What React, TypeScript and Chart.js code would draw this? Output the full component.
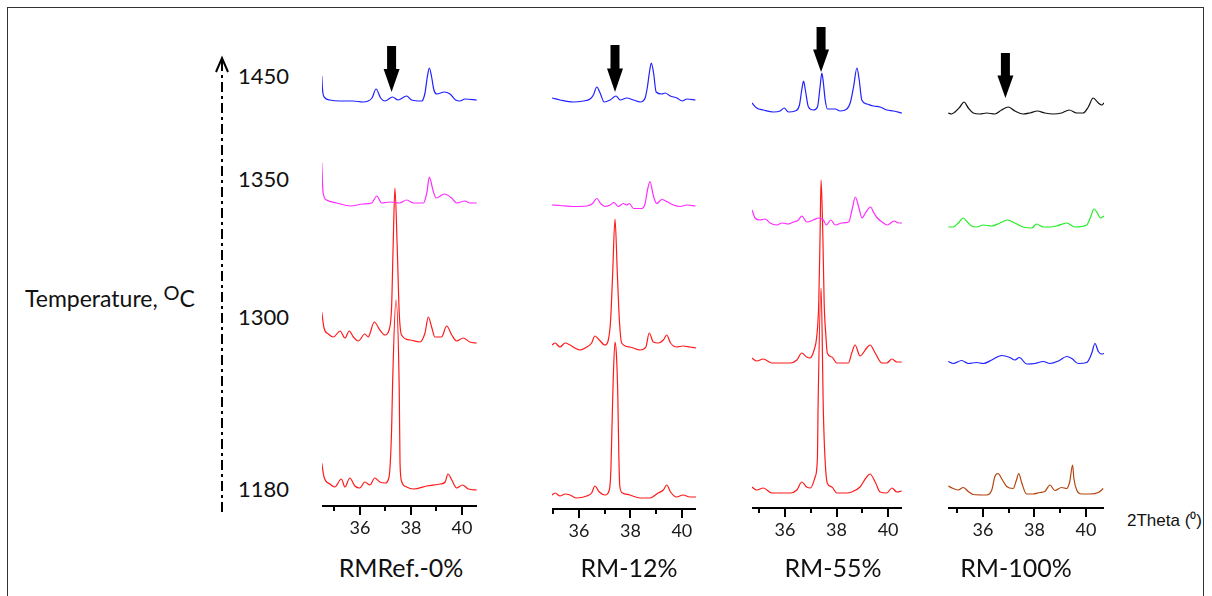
import React, { useEffect, useRef } from "react";
import { Chart, registerables } from "chart.js";
Chart.register(...registerables);

// ---------- data ----------
const temperatures = ["1450", "1350", "1300", "1180"];
const sampleNames = ["RMRef.-0%", "RM-12%", "RM-55%", "RM-100%"];
const tickValues = [36, 38, 40];
const minorTickValues = [35, 37, 39];
const arrowTheta = [37.24, 37.4, 37.4, 36.87];

// RMRef.-0%
const thRef1450 = [34.5, 34.54, 34.63, 34.82, 35.22, 35.73, 36.12, 36.47, 36.63, 36.81, 36.98, 37.28, 37.49, 37.83, 38.03, 38.42, 38.55, 38.64, 38.72, 38.81, 38.9, 39.01, 39.31, 39.53, 39.75, 39.92, 40.12, 40.58];
const inRef1450 = [25, 9, 3, 1, 0, 0, -1, 3, 12, 3, 0, 4, 1, 5, 1, 0, 8, 24, 33, 24, 11, 7, 9, 7, 1, 0, 2, 1];
const thRef1350 = [34.5, 34.55, 34.69, 35.09, 35.62, 36.12, 36.46, 36.66, 36.85, 37.18, 37.55, 37.83, 38.1, 38.49, 38.62, 38.72, 38.86, 38.99, 39.31, 39.6, 39.79, 40.12, 40.31, 40.58];
const inRef1350 = [41, 12, 4, 1, -2, 0, 1, 8, 1, 2, 1, 4, 1, 1, 11, 27, 14, 6, 10, 6, 1, 3, 1, 1];
const thRef1300 = [34.5, 34.59, 34.76, 34.96, 35.22, 35.41, 35.58, 35.74, 35.93, 36.19, 36.32, 36.56, 36.78, 36.98, 37.14, 37.24, 37.3, 37.37, 37.46, 37.54, 37.63, 37.96, 38.35, 38.55, 38.68, 38.81, 38.94, 39.2, 39.4, 39.6, 39.79, 40.05, 40.31, 40.58];
const inRef1300 = [29, 13, 7, 4, 10, 3, 10, 4, 0, 7, 4, 19, 11, 6, 11, 34, 94, 153, 94, 28, 6, 1, -1, 8, 24, 14, 4, 4, 15, 6, 0, 3, -1, -2];
const thRef1180 = [34.5, 34.59, 34.82, 35.01, 35.27, 35.41, 35.6, 35.8, 35.99, 36.19, 36.39, 36.58, 36.78, 36.98, 37.14, 37.24, 37.28, 37.41, 37.54, 37.57, 37.64, 37.83, 38.1, 38.62, 39.15, 39.34, 39.45, 39.6, 39.79, 40.02, 40.25, 40.58];
const inRef1180 = [26, 12, 5, 2, 10, 2, 11, 3, 1, 7, 4, 11, 7, 6, 12, 59, 106, 189, 99, 26, 7, 2, 0, 3, 5, 7, 15, 9, 1, 4, 0, -1];

// RM-12%
const th12_1450 = [34.95, 35.26, 35.78, 36.17, 36.43, 36.56, 36.69, 36.82, 36.98, 37.21, 37.44, 37.6, 37.86, 38.12, 38.38, 38.57, 38.66, 38.74, 38.81, 38.9, 39.0, 39.22, 39.35, 39.55, 39.81, 40.01, 40.2, 40.53];
const in12_1450 = [3, 1, -1, 0, 2, 6, 14, 8, -1, 1, 5, 1, 3, 1, -1, 3, 14, 29, 38, 28, 9, 7, 8, 5, 3, 0, 2, 1];
const th12_1350 = [34.95, 35.26, 35.78, 36.3, 36.53, 36.69, 36.84, 37.01, 37.21, 37.36, 37.53, 37.72, 37.86, 37.96, 38.12, 38.44, 38.57, 38.66, 38.76, 38.89, 39.02, 39.22, 39.41, 39.67, 39.93, 40.2, 40.53];
const in12_1350 = [1.5, 1, 0, 0.5, 3, 8, 3, 0, 1.5, 4, 0, 3, 1.5, 3, -2, -2, 3, 16, 25, 11, 3, 7, 5, 1.5, 0, 1.5, 0.5];
const th12_1300 = [34.95, 35.07, 35.26, 35.46, 35.65, 35.84, 36.04, 36.3, 36.49, 36.62, 36.79, 37.01, 37.14, 37.23, 37.31, 37.4, 37.49, 37.57, 37.66, 37.98, 38.37, 38.6, 38.73, 38.89, 39.08, 39.28, 39.41, 39.56, 39.79, 40.05, 40.31, 40.55];
const in12_1300 = [3, 5, 1, 5, 3, 0, -2, 1, 5, 12, 8, 3, 8, 28, 75, 129, 75, 28, 5, 1, -2, 1, 15, 6, 5, 8, 13, 5, 1, 2, 1, 0];
const th12_1180 = [34.95, 35.07, 35.26, 35.46, 35.65, 35.91, 36.3, 36.49, 36.62, 36.79, 37.01, 37.18, 37.24, 37.28, 37.33, 37.4, 37.46, 37.51, 37.55, 37.59, 37.69, 37.98, 38.37, 38.76, 39.08, 39.28, 39.41, 39.56, 39.79, 40.05, 40.31, 40.55];
const in12_1180 = [2, 4, 1, 3, 2, -1, 1, 4, 11, 5, 2, 7, 27, 67, 117, 155, 140, 100, 40, 10, 4, 2, -1, -1, 4, 7, 12, 5, 0, 2, 0, 0];

// RM-55%
const th55_1450 = [34.72, 34.9, 35.16, 35.55, 35.81, 35.97, 36.13, 36.39, 36.56, 36.65, 36.72, 36.79, 36.91, 37.1, 37.26, 37.36, 37.43, 37.49, 37.56, 37.65, 37.95, 38.14, 38.4, 38.53, 38.66, 38.79, 38.88, 38.98, 39.18, 39.43, 39.69, 39.95, 40.21, 40.54];
const in55_1450 = [8, 3, 1, -1, 0, 3, -1, 0, 6, 21, 30, 21, 4, 1, 4, 24, 38, 28, 11, 2, 2, 0, 2, 8, 24, 43, 31, 11, 7, 5, 4, 1, 0, -2];
const th55_1350 = [34.72, 34.84, 35.03, 35.23, 35.42, 35.68, 35.88, 36.13, 36.33, 36.52, 36.65, 36.85, 37.1, 37.3, 37.49, 37.6, 37.78, 37.95, 38.21, 38.47, 38.6, 38.73, 38.86, 38.99, 39.12, 39.32, 39.45, 39.58, 39.77, 39.97, 40.23, 40.42, 40.54];
const in55_1350 = [12, 4, 2, 3, -1, -3, -1, -2, 0, 2, 6, 0, 2, 4, 2, -3, 2, -3, -1, 0, 12, 25, 15, 4, 9, 15, 9, 4, 0, -3, 1, -1, -1];
const th55_1300 = [34.72, 34.9, 35.16, 35.49, 35.87, 36.2, 36.46, 36.65, 36.84, 36.97, 37.13, 37.23, 37.31, 37.36, 37.4, 37.47, 37.52, 37.59, 37.64, 37.82, 38.01, 38.46, 38.59, 38.72, 38.91, 39.17, 39.3, 39.5, 39.76, 39.95, 40.15, 40.34, 40.53];
const in55_1300 = [5, 2, 4, 0, 0, 0, 3, 10, 6, 5, 13, 26, 60, 126, 183, 126, 60, 26, 10, 6, 0, 0, 10, 18, 7, 15, 18, 10, 0, 0, 4, 1, 1];
const th55_1180 = [34.72, 34.9, 35.16, 35.49, 36.2, 36.46, 36.65, 36.84, 36.99, 37.17, 37.26, 37.28, 37.4, 37.49, 37.55, 37.64, 37.82, 38.01, 38.4, 38.59, 38.91, 39.14, 39.3, 39.5, 39.69, 39.95, 40.15, 40.34, 40.53];
const in55_1180 = [6, 3, 5, 0, 0, 3, 11, 6, 5, 16, 36, 80, 205, 80, 36, 10, 6, 0, 0, 1, 6, 15, 19, 11, 1, 0, 5, 1, 2];

// RM-100%
const th100_1450 = [34.65, 34.78, 34.91, 35.1, 35.26, 35.43, 35.62, 35.88, 36.14, 36.46, 36.72, 36.98, 37.24, 37.56, 37.82, 38.11, 38.4, 38.73, 39.05, 39.35, 39.64, 39.89, 40.09, 40.28, 40.48, 40.61, 40.7];
const in100_1450 = [1, 0, 2, 7, 12, 6, 1, 0, 1, 0, 4, 7, 3, 0, 1, 3, 1, 0, 1, 4, 1, 1, 7, 16, 11, 9, 11];
const th100_1350 = [34.65, 34.84, 35.04, 35.23, 35.39, 35.56, 35.75, 36.01, 36.34, 36.66, 36.94, 37.24, 37.56, 37.89, 38.08, 38.34, 38.6, 38.86, 39.25, 39.57, 40.03, 40.18, 40.31, 40.44, 40.57, 40.7];
const in100_1350 = [0, 0, 4, 9, 5, 1, 0, 2, 1, 4, 7, 4, 0, -1, 3, 0, 0, 1, 4, 0, 2, 10, 18, 14, 9, 11];
const th100_1300 = [34.65, 34.84, 35.17, 35.43, 35.75, 36.01, 36.34, 36.72, 37.05, 37.24, 37.41, 37.7, 38.02, 38.34, 38.6, 38.93, 39.25, 39.45, 39.7, 40.03, 40.22, 40.35, 40.48, 40.61, 40.7];
const in100_1300 = [2, 0, 3, 0, 1, 0, 3.5, 8, 6, 3.5, 6, -0.5, 0, 2, 0, 2.5, 7, 5, 0, 1, 10, 20, 12, 9.5, 10];
const th100_1180 = [34.65, 34.84, 35.04, 35.23, 35.43, 35.62, 36.14, 36.34, 36.46, 36.59, 36.72, 36.92, 37.17, 37.3, 37.39, 37.5, 37.69, 37.95, 38.21, 38.4, 38.6, 38.79, 39.05, 39.25, 39.37, 39.48, 39.53, 39.64, 39.83, 40.15, 40.48, 40.67];
const in100_1180 = [8.5, 6, 4.5, 7, 3, 0, -0.5, 4.5, 18, 21, 16, 8, 6, 14.5, 21, 12, 0.5, 0.5, 2, 3, 9.5, 4, 7, 6, 13, 29.5, 16, 4.5, 0.5, 0.5, 2, 6];

// ---------- layout / styles ----------
const BLUE = "#1f1fff";
const MAGENTA = "#ff2cff";
const RED = "#ff1a1a";
const GREEN = "#22ee22";
const BLACK = "#111111";
const BROWN = "#b4440e";
const CANVAS_TOP = 20;
const AXIS_H = 45;

const panels = [
  { left: 322, width: 155, min: 34.51, max: 40.59, axisY: 506, offsets: [405, 302, 165, 17], colors: [BLUE, MAGENTA, RED, RED],
    series: [[thRef1450, inRef1450], [thRef1350, inRef1350], [thRef1300, inRef1300], [thRef1180, inRef1180]], arrowTop: 46, arrowTip: 92, labelX: 401 },
  { left: 552, width: 144, min: 34.95, max: 40.55, axisY: 509, offsets: [408, 302.5, 161, 12], colors: [BLUE, MAGENTA, RED, RED],
    series: [[th12_1450, in12_1450], [th12_1350, in12_1350], [th12_1300, in12_1300], [th12_1180, in12_1180]], arrowTop: 45, arrowTip: 92, labelX: 629 },
  { left: 752, width: 150, min: 34.72, max: 40.54, axisY: 508, offsets: [397, 286, 145, 15], colors: [BLUE, MAGENTA, RED, RED],
    series: [[th55_1450, in55_1450], [th55_1350, in55_1350], [th55_1300, in55_1300], [th55_1180, in55_1180]], arrowTop: 27, arrowTip: 72, labelX: 833 },
  { left: 948, width: 156, min: 34.64, max: 40.7, axisY: 508, offsets: [394, 281, 144.5, 13.5], colors: [BLACK, GREEN, BLUE, BROWN],
    series: [[th100_1450, in100_1450], [th100_1350, in100_1350], [th100_1300, in100_1300], [th100_1180, in100_1180]], arrowTop: 53, arrowTip: 98, labelX: 1016 },
];

const FONT = "Lato, 'Open Sans', sans-serif";

function Panel({ idx }: { idx: number }) {
  const ref = useRef<HTMLCanvasElement | null>(null);
  const p = panels[idx];
  const chartH = p.axisY - CANVAS_TOP;
  useEffect(() => {
    if (!ref.current) return;
    const decor = {
      id: "decor" + idx,
      afterDraw(chart: any) {
        const ctx = chart.ctx;
        const xs = chart.scales.x;
        const ys = chart.scales.y;
        const bottom = chart.chartArea.bottom;
        ctx.save();
        ctx.strokeStyle = "#000";
        ctx.lineWidth = 2;
        minorTickValues.forEach((v) => {
          const x = Math.round(xs.getPixelForValue(v));
          ctx.beginPath();
          ctx.moveTo(x, bottom);
          ctx.lineTo(x, bottom + 5);
          ctx.stroke();
        });
        // arrow
        const ax = xs.getPixelForValue(arrowTheta[idx]);
        const top = ys.getPixelForValue(p.axisY - p.arrowTop);
        const tip = ys.getPixelForValue(p.axisY - p.arrowTip);
        const headH = (tip - top) * 0.5;
        ctx.fillStyle = "#000";
        ctx.beginPath();
        ctx.moveTo(ax - 4.5, top);
        ctx.lineTo(ax + 4.5, top);
        ctx.lineTo(ax + 4.5, tip - headH);
        ctx.lineTo(ax + 8, tip - headH);
        ctx.lineTo(ax, tip);
        ctx.lineTo(ax - 8, tip - headH);
        ctx.lineTo(ax - 4.5, tip - headH);
        ctx.closePath();
        ctx.fill();
        ctx.restore();
      },
    };
    const datasets = p.series.map((s, i) => ({
      label: temperatures[i],
      data: s[0].map((t: number, k: number) => ({ x: t, y: p.offsets[i] + s[1][k] })),
      borderColor: p.colors[i],
      borderWidth: 1.2,
      pointRadius: 0,
      fill: false,
      cubicInterpolationMode: "monotone" as const,
      clip: false as any,
    }));
    const chart = new Chart(ref.current, {
      type: "line",
      data: { datasets },
      options: {
        responsive: false,
        animation: false,
        devicePixelRatio: 1,
        layout: { padding: 0 },
        plugins: { legend: { display: false }, tooltip: { enabled: false } },
        scales: {
          x: {
            type: "linear",
            min: p.min,
            max: p.max,
            afterBuildTicks: (scale: any) => {
              scale.ticks = tickValues.map((v) => ({ value: v }));
            },
            afterFit: (scale: any) => {
              scale.height = AXIS_H;
            },
            grid: { drawOnChartArea: false, drawTicks: true, tickLength: 9, color: "#000", lineWidth: 2 },
            border: { display: true, color: "#000", width: 2 },
            ticks: {
              padding: 2,
              color: "#1a1a1a",
              font: { family: FONT, size: 18 },
              maxRotation: 0,
              autoSkip: false,
              callback: (v: any) => String(v),
            },
          },
          y: { type: "linear", display: false, min: 0, max: chartH },
        },
      },
      plugins: [decor],
    });
    return () => chart.destroy();
  }, []);
  return (
    <canvas
      ref={ref}
      width={p.width}
      height={chartH + AXIS_H}
      style={{ position: "absolute", left: p.left, top: CANVAS_TOP, width: p.width, height: chartH + AXIS_H }}
    />
  );
}

const tempY = [77, 180, 318, 490];

export default function App() {
  return (
    <div style={{ position: "absolute", left: 0, top: 0, width: 1212, height: 596, overflow: "hidden", background: "#fff", fontFamily: FONT, color: "#111" }}>
      <div style={{ position: "absolute", left: 7, top: 7, width: 1197, height: 620, border: "1px solid #333", boxSizing: "border-box" }} />
      <svg width={1212} height={596} style={{ position: "absolute", left: 0, top: 0 }}>
        <line x1={222} y1={512} x2={222} y2={60} stroke="#000" strokeWidth={2} strokeDasharray="10 4 3 4" />
        <polyline points="216,72 222,58 228,72" fill="none" stroke="#000" strokeWidth={2} />
      </svg>
      {panels.map((_, i) => (
        <Panel key={i} idx={i} />
      ))}
      {temperatures.map((t, i) => (
        <div key={t} style={{ position: "absolute", left: 238, top: tempY[i] - 12, fontSize: 22, lineHeight: "22px" }}>
          {t}
        </div>
      ))}
      <div style={{ position: "absolute", left: 25, top: 287, fontSize: 23, lineHeight: "23px", whiteSpace: "nowrap" }}>
        Temperature, <span style={{ position: "relative", top: -7, fontSize: 20 }}>O</span>C
      </div>
      {sampleNames.map((n, i) => (
        <div key={n} style={{ position: "absolute", left: panels[i].labelX - 90, width: 180, textAlign: "center", top: 555, fontSize: 25, lineHeight: "25px" }}>
          {n}
        </div>
      ))}
      <div style={{ position: "absolute", left: 1127, top: 512, fontSize: 17, lineHeight: "17px", fontFamily: "'Liberation Sans', Arial, sans-serif", whiteSpace: "nowrap" }}>
        2Theta (⁰)
      </div>
    </div>
  );
}
